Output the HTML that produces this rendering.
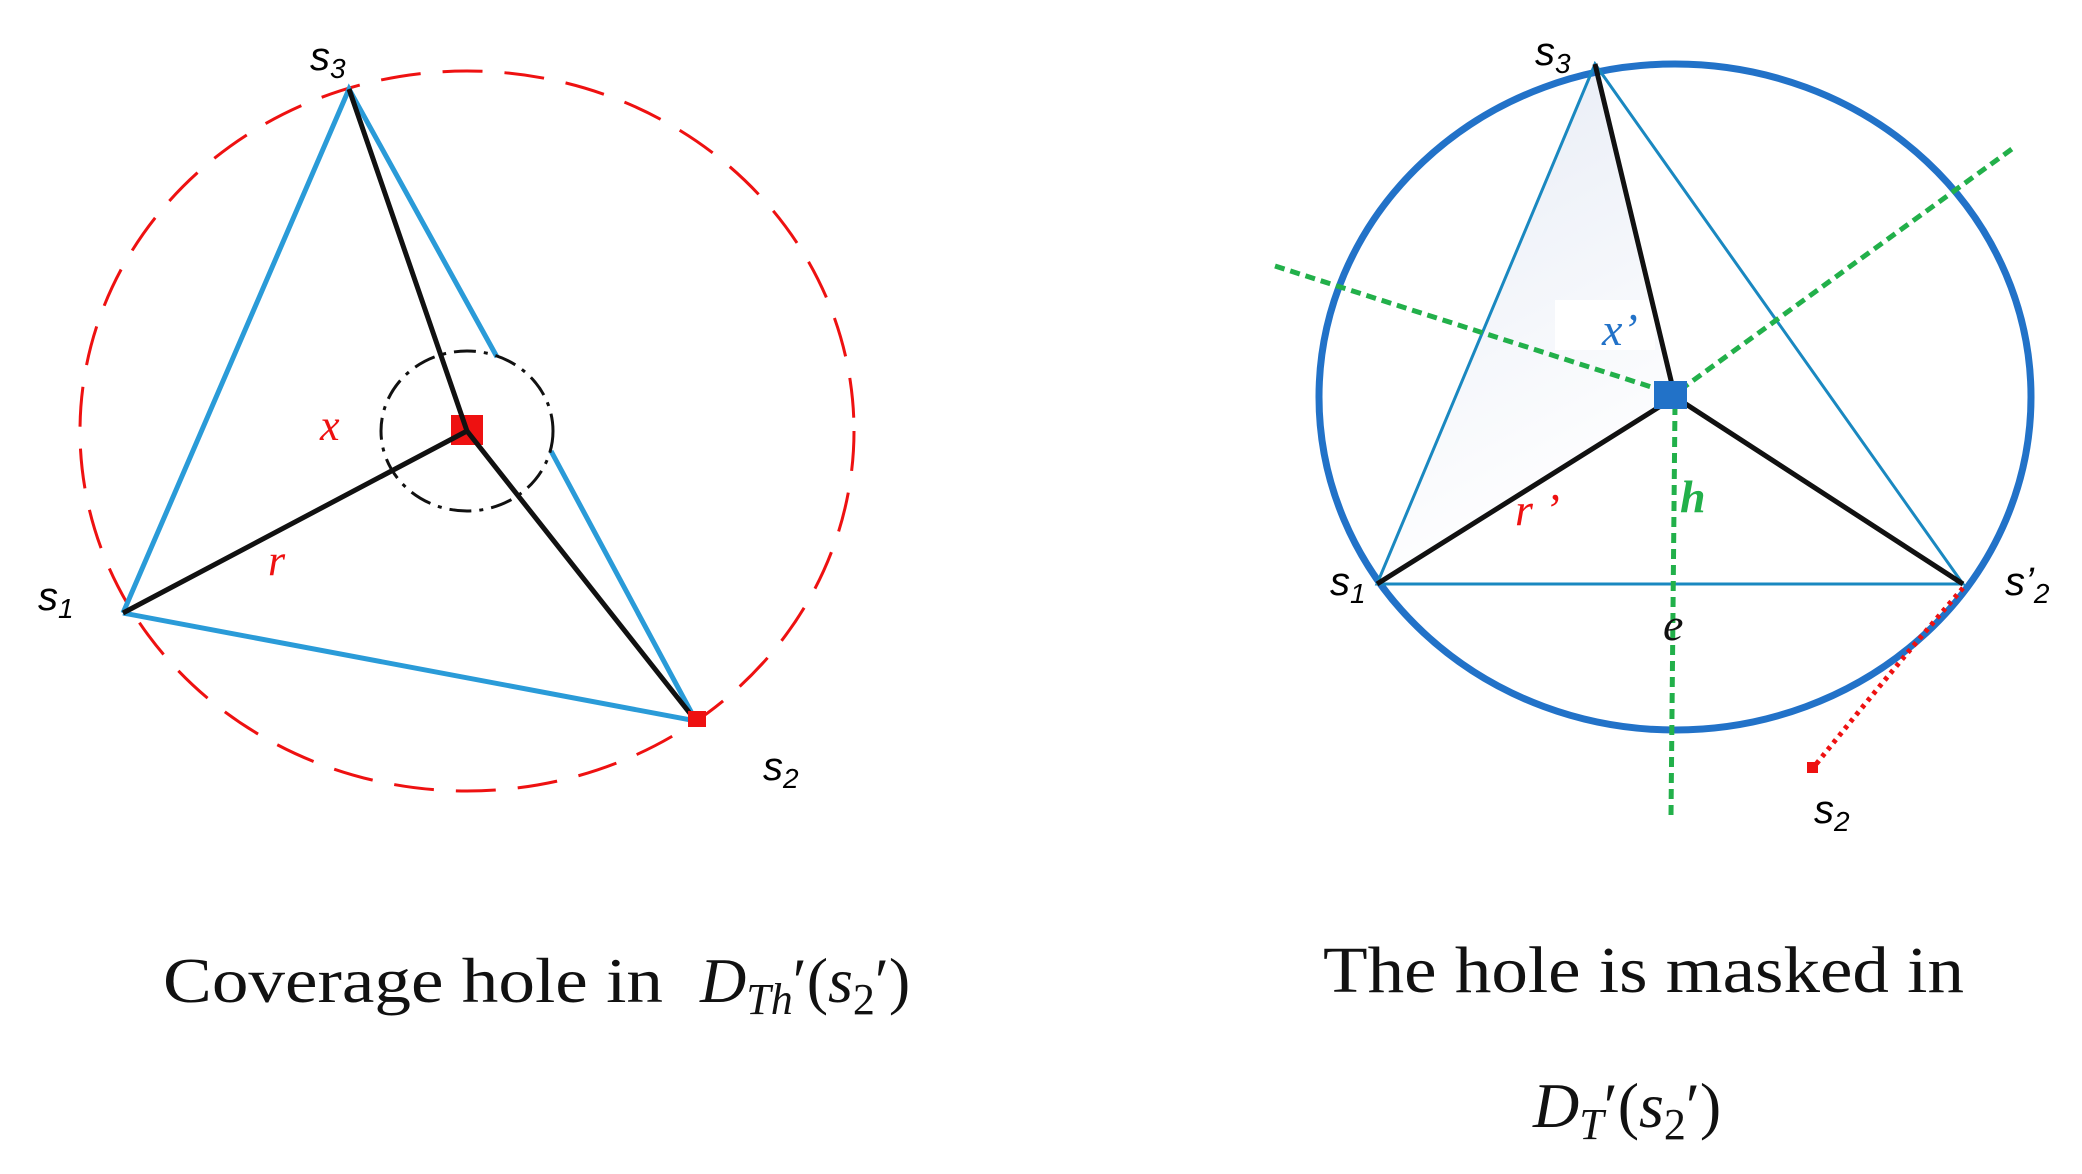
<!DOCTYPE html>
<html><head><meta charset="utf-8"><style>
html,body{margin:0;padding:0;background:#fff;}
svg{display:block;}
text{font-family:"Liberation Serif",serif;}
.s{font-family:"Liberation Sans",sans-serif;font-style:italic;}
</style></head><body>
<svg width="2082" height="1174" viewBox="0 0 2082 1174" xmlns="http://www.w3.org/2000/svg">
<defs>
<linearGradient id="g" x1="0" y1="0" x2="0.3" y2="1">
<stop offset="0" stop-color="#e6ebf5"/><stop offset="1" stop-color="#ffffff"/>
</linearGradient>
</defs>
<!-- LEFT -->
<ellipse cx="467" cy="431" rx="387" ry="360" fill="none" stroke="#ee1111" stroke-width="3" stroke-dasharray="40,22"/>
<polyline points="123,613 349,89 497,357" fill="none" stroke="#2a9bd8" stroke-width="5"/>
<polyline points="551,451 696,721 123,613" fill="none" stroke="#2a9bd8" stroke-width="5"/>
<ellipse cx="467" cy="431" rx="86" ry="80" fill="none" stroke="#111" stroke-width="3" stroke-dasharray="22,8,4,8"/>
<rect x="451" y="415" width="32" height="30" fill="#ee1111"/>
<polyline points="349,89 467,431 123,613" fill="none" stroke="#111" stroke-width="5"/>
<line x1="467" y1="431" x2="696" y2="721" stroke="#111" stroke-width="5"/>
<rect x="688" y="711" width="18" height="16" fill="#ee1111"/>
<text x="310" y="70" class="s" font-size="40">s<tspan font-size="28" dy="8">3</tspan></text>
<text x="38" y="610" class="s" font-size="40">s<tspan font-size="28" dy="8">1</tspan></text>
<text x="763" y="780" class="s" font-size="40">s<tspan font-size="28" dy="8">2</tspan></text>
<text x="320" y="440" font-size="44" font-style="italic" fill="#ee1111">x</text>
<text x="268" y="575" font-size="44" font-style="italic" fill="#ee1111">r</text>
<text x="163" y="1002" font-size="64" fill="#111" textLength="500" lengthAdjust="spacingAndGlyphs">Coverage hole in</text>
<text x="700" y="1002" font-size="64" fill="#111"><tspan font-style="italic">D</tspan><tspan font-style="italic" font-size="44" dy="12">Th</tspan><tspan dy="-12">′(</tspan><tspan font-style="italic">s</tspan><tspan font-size="44" dy="12">2</tspan><tspan dy="-12">′)</tspan></text>

<!-- RIGHT -->
<polygon points="1595,64 1377,584 1675,397 1660,330" fill="url(#g)"/>
<rect x="1555" y="300" width="100" height="50" fill="#fff"/>
<ellipse cx="1675" cy="397" rx="356" ry="333" fill="none" stroke="#2272c8" stroke-width="7"/>
<polygon points="1595,64 1377,584 1963,584" fill="none" stroke="#1a88c0" stroke-width="3"/>
<line x1="1275" y1="266" x2="1670" y2="393" stroke="#22b04a" stroke-width="5" stroke-dasharray="10,6"/>
<line x1="1680" y1="390" x2="2016" y2="146" stroke="#22b04a" stroke-width="5" stroke-dasharray="10,6"/>
<line x1="1675" y1="405" x2="1671" y2="816" stroke="#22b04a" stroke-width="5" stroke-dasharray="10,6"/>
<polyline points="1595,64 1675,397 1377,584" fill="none" stroke="#111" stroke-width="5"/>
<line x1="1675" y1="397" x2="1963" y2="584" stroke="#111" stroke-width="5"/>
<rect x="1654" y="381" width="33" height="28" fill="#2272c8"/>
<path d="M1963,588 Q1900,660 1813,768" fill="none" stroke="#ee1111" stroke-width="5" stroke-dasharray="4,5"/>
<rect x="1807" y="762" width="11" height="11" fill="#ee1111"/>
<text x="1535" y="65" class="s" font-size="40">s<tspan font-size="28" dy="8">3</tspan></text>
<text x="1330" y="595" class="s" font-size="40">s<tspan font-size="28" dy="8">1</tspan></text>
<text x="2005" y="595" class="s" font-size="40">s’<tspan font-size="28" dy="8">2</tspan></text>
<text x="1814" y="823" class="s" font-size="40">s<tspan font-size="28" dy="8">2</tspan></text>
<text x="1663" y="640" font-size="46" font-style="italic" fill="#111">e</text>
<text x="1680" y="512" font-size="46" font-style="italic" font-weight="bold" fill="#22b04a">h</text>
<text x="1515" y="525" font-size="46" font-style="italic" fill="#ee1111">r ’</text>
<text x="1602" y="345" font-size="46" font-style="italic" fill="#2272c8">x’</text>
<text x="1323" y="992" font-size="66" fill="#111" textLength="641" lengthAdjust="spacingAndGlyphs">The hole is masked in</text>
<text x="1533" y="1127" font-size="64" fill="#111"><tspan font-style="italic">D</tspan><tspan font-style="italic" font-size="44" dy="12">T</tspan><tspan dy="-12">′(</tspan><tspan font-style="italic">s</tspan><tspan font-size="44" dy="12">2</tspan><tspan dy="-12">′)</tspan></text>
</svg>
</body></html>
